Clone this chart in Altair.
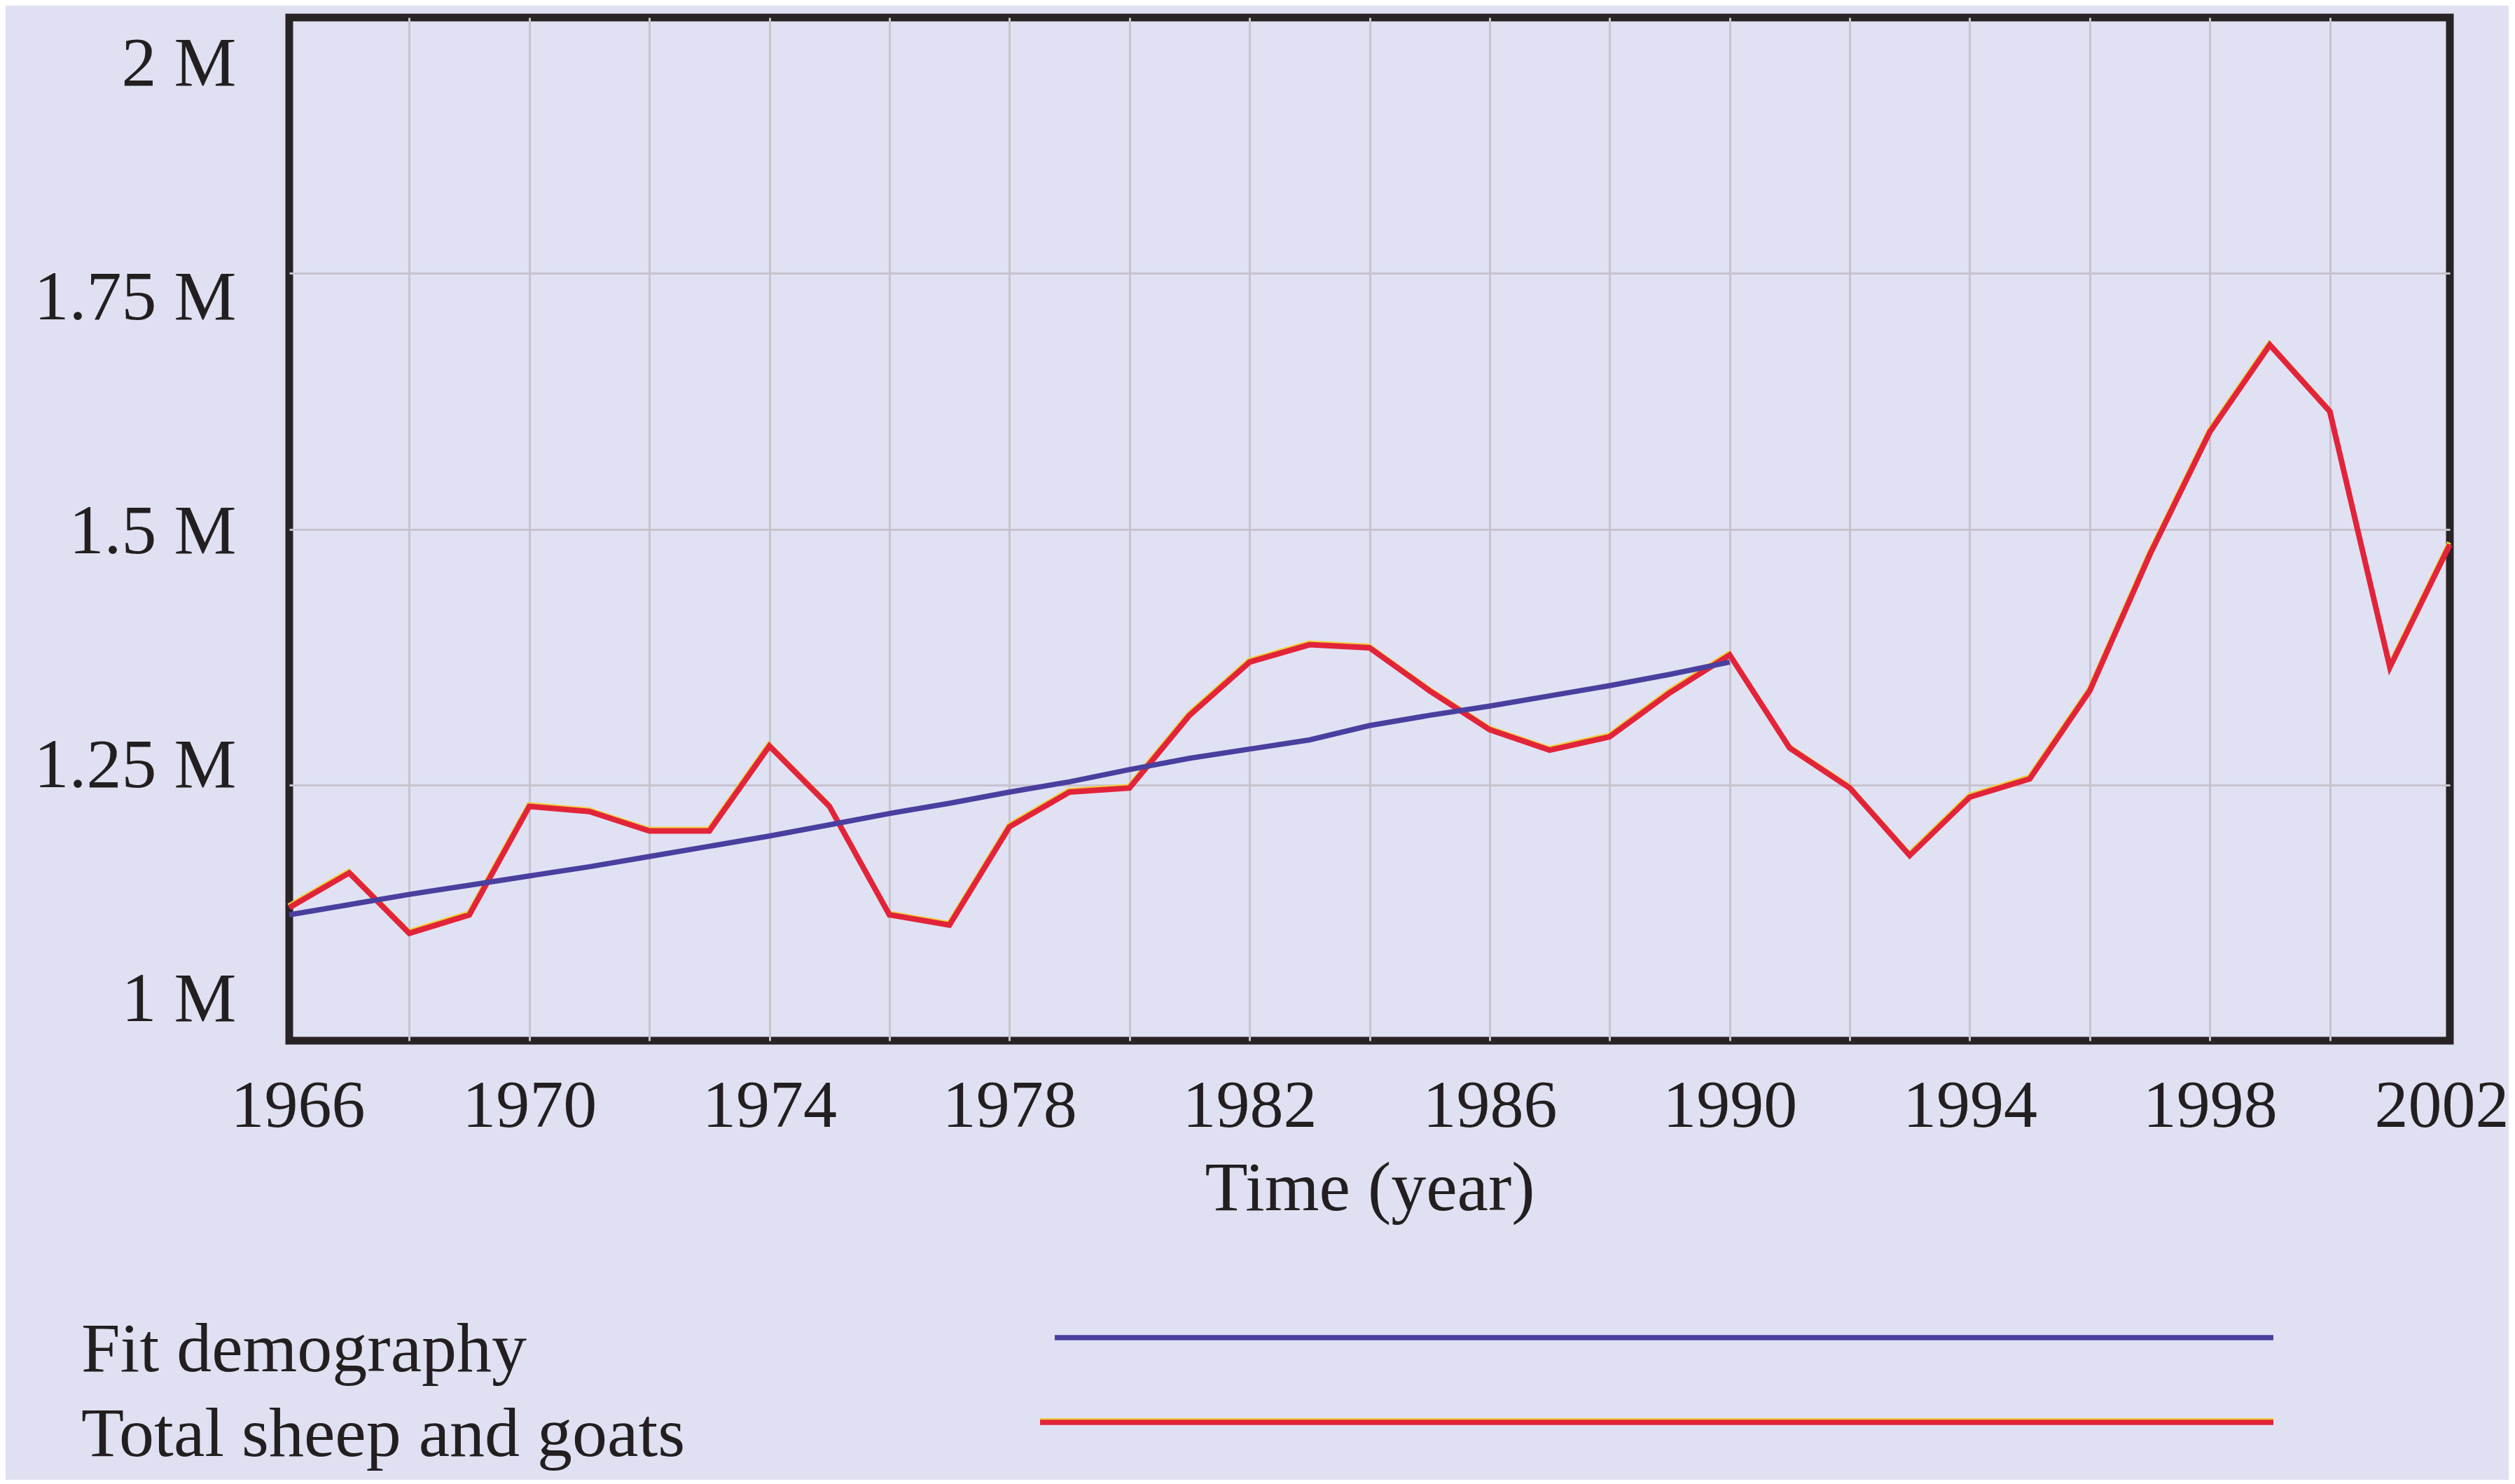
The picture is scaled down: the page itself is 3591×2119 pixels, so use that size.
import altair as alt
import pandas as pd

# ---- data (values in millions of head) ----
years = list(range(1966, 2003))
total_sheep_goats = [1.130, 1.164, 1.105, 1.123, 1.229, 1.224, 1.205, 1.205, 1.288, 1.229,
                     1.123, 1.113, 1.209, 1.243, 1.247, 1.318, 1.370, 1.387, 1.384, 1.342,
                     1.304, 1.284, 1.297, 1.340, 1.377, 1.286, 1.247, 1.181, 1.238, 1.256,
                     1.342, 1.475, 1.595, 1.680, 1.615, 1.365, 1.485]
fit_years = list(range(1966, 1991))
fit_demography = [1.123, 1.133, 1.143, 1.152, 1.161, 1.170, 1.180, 1.190, 1.200, 1.211,
                  1.222, 1.232, 1.243, 1.253, 1.265, 1.276, 1.285, 1.294, 1.308, 1.318,
                  1.327, 1.337, 1.347, 1.358, 1.370]
series_names = ["Fit demography", "Total sheep and goats"]
series_colors = ["#4a3f9f", "#e2243a"]
x_grid_years = list(range(1966, 2003, 2))
y_ticks = [1000000, 1250000, 1500000, 1750000, 2000000]

df_total = pd.DataFrame({"year": years, "value": [v * 1e6 for v in total_sheep_goats],
                         "series": series_names[1]})
df_fit = pd.DataFrame({"year": fit_years, "value": [v * 1e6 for v in fit_demography],
                       "series": series_names[0]})

FONT = "Liberation Serif"
INK = "#231f20"
W, H = 3085, 1461

x_enc = alt.X(
    "year:Q",
    scale=alt.Scale(domain=[1966, 2002], nice=False, zero=False),
    axis=alt.Axis(
        values=x_grid_years, format="d",
        labelExpr="(datum.value - 1966) % 4 == 0 ? datum.label : ''",
        title="Time (year)", labelFontSize=96, labelPadding=46, titlePadding=21,
        labelFlush=True, labelFlushOffset=84, labelOverlap=False,
        gridOpacity={"condition": {"test": "datum.value == 1966 || datum.value == 2002", "value": 0}, "value": 1},
    ),
)
y_enc = alt.Y(
    "value:Q",
    scale=alt.Scale(domain=[1000000, 2000000], nice=False, zero=False),
    axis=alt.Axis(
        values=y_ticks, title=None,
        labelExpr="(datum.value / 1000000) + ' M'",
        labelPadding=76, labelFontSize=100, labelFlush=False,
        labelOffset=alt.ExprRef(expr="4 + (datum.value - 1500000) * 0.000125"),
        gridOpacity={"condition": {"test": "datum.value == 1000000 || datum.value == 2000000", "value": 0}, "value": 1},
    ),
)

red_glow = alt.Chart(df_total).mark_line(color="#f0cf3a", strokeWidth=6, yOffset=-3, xOffset=-1).encode(
    x=x_enc, y=y_enc)
red_line = alt.Chart(df_total).mark_line(strokeWidth=8).encode(
    x=x_enc, y=y_enc,
    color=alt.Color("series:N", scale=alt.Scale(domain=series_names, range=series_colors), legend=None))
blue_line = alt.Chart(df_fit).mark_line(strokeWidth=7.5).encode(
    x=x_enc, y=y_enc,
    color=alt.Color("series:N", scale=alt.Scale(domain=series_names, range=series_colors), legend=None))

# ---- legend drawn below the plot, label left and line sample right ----
leg_fit = pd.DataFrame({"series": [series_names[0]]})
leg_tot = pd.DataFrame({"series": [series_names[1]]})

txt_fit = alt.Chart(leg_fit).mark_text(font=FONT, fontSize=100, align="left", baseline="alphabetic",
                                       color=INK).encode(text="series:N", x=alt.value(-297), y=alt.value(1933))
txt_tot = alt.Chart(leg_tot).mark_text(font=FONT, fontSize=100, align="left", baseline="alphabetic",
                                       color=INK).encode(text="series:N", x=alt.value(-297), y=alt.value(2054))
rule_fit = alt.Chart(leg_fit).mark_rule(color=series_colors[0], strokeWidth=7.5).encode(
    x=alt.value(1093), x2=alt.value(2833), y=alt.value(1885))
rule_tot_glow = alt.Chart(leg_tot).mark_rule(color="#f0cf3a", strokeWidth=6).encode(
    x=alt.value(1072), x2=alt.value(2833), y=alt.value(2003))
rule_tot = alt.Chart(leg_tot).mark_rule(color=series_colors[1], strokeWidth=7.5).encode(
    x=alt.value(1072), x2=alt.value(2833), y=alt.value(2006))

chart = alt.layer(
    red_glow, red_line, blue_line, txt_fit, txt_tot, rule_fit, rule_tot_glow, rule_tot
).properties(
    width=W, height=H,
).configure(
    background="#dfe1f2",
    padding={"left": 40, "top": 17, "right": 0, "bottom": 14},
).configure_view(
    stroke="#2a2326", strokeWidth=11, fill="#e0e2f3",
).configure_axis(
    labelFont=FONT, titleFont=FONT, labelColor=INK, titleColor=INK,
    titleFontSize=100, titleFontWeight="normal", labelLimit=0,
    domain=False, ticks=False, tickSize=0,
    gridColor="#c8c2cf", gridWidth=3,
)

chart.save("out.html", embed_options={"renderer": "svg", "actions": False})
